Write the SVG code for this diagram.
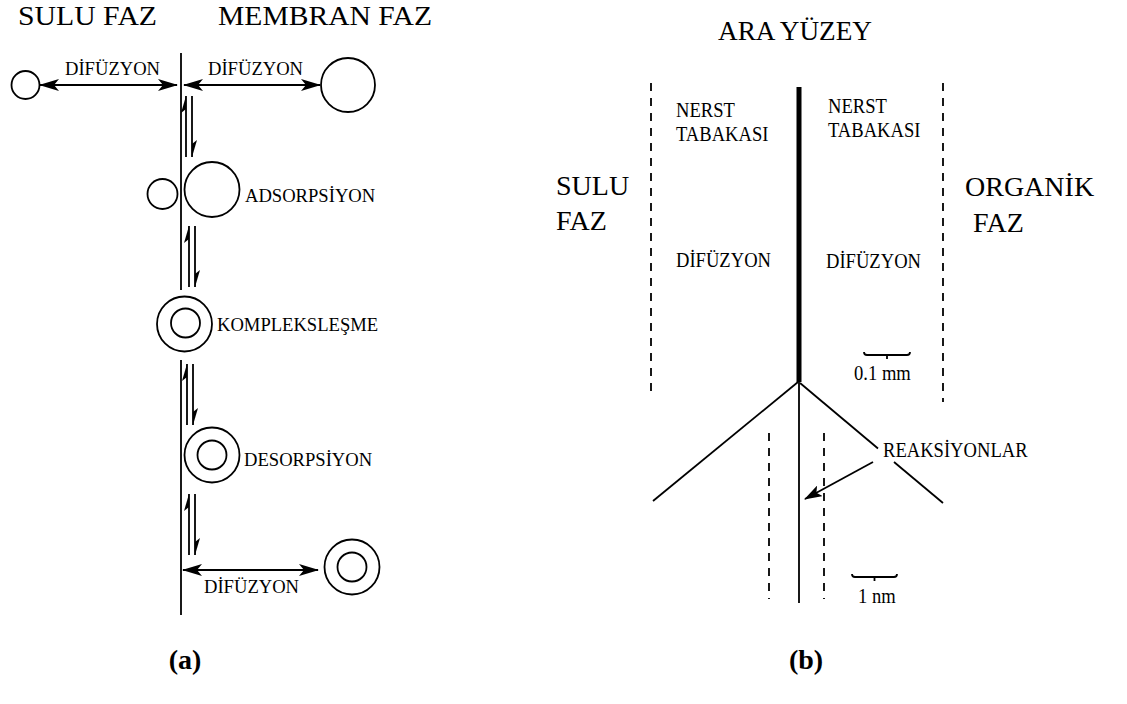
<svg xmlns="http://www.w3.org/2000/svg" width="1127" height="704" viewBox="0 0 1127 704" font-family="'Liberation Serif', 'DejaVu Serif', serif">
<defs>
<style>
text{font-family:'Liberation Serif','DejaVu Serif',serif;fill:#000}
.big{font-size:28px}
.sm{font-size:18.6px}
.lab{font-size:28px;font-weight:bold}
.ln{stroke:#000;stroke-width:1.8;fill:none}
.circ{stroke:#000;stroke-width:1.8;fill:#fff}
.dash{stroke:#000;stroke-width:1.8;fill:none;stroke-dasharray:8 7}
.hd{fill:#000;stroke:none}
</style>
<marker id="ah" viewBox="0 0 20 12" refX="19" refY="6" markerWidth="20" markerHeight="12" markerUnits="userSpaceOnUse" orient="auto-start-reverse">
<path d="M0,0 L20,6 L0,12 L5,6 z" fill="#000"/>
</marker>
<marker id="ah2" viewBox="0 0 18 12" refX="17" refY="6" markerWidth="18" markerHeight="12" markerUnits="userSpaceOnUse" orient="auto">
<path d="M0,0 L18,6 L0,12 L4,6 z" fill="#000"/>
</marker>
<g id="harp">
<line class="ln" x1="0" y1="0" x2="0" y2="61"/>
<polygon class="hd" points="0,0 -5,17 0,13"/>
<line class="ln" x1="6" y1="0" x2="6" y2="61"/>
<polygon class="hd" points="6,61 11,44 6,48"/>
</g>
</defs>
<rect width="1127" height="704" fill="#fff"/>

<g id="panel-a">
<g id="titles-a">
<text class="big" x="18" y="25" textLength="139" lengthAdjust="spacingAndGlyphs">SULU FAZ</text>
<text class="big" x="218" y="25" textLength="214" lengthAdjust="spacingAndGlyphs">MEMBRAN FAZ</text>
</g>
<g id="membrane">
<line class="ln" x1="181" y1="53" x2="181" y2="290"/>
<line class="ln" x1="181" y1="360" x2="181" y2="615"/>
</g>
<g id="connectors-a">
<line class="ln" x1="40" y1="85" x2="177" y2="85" marker-start="url(#ah)" marker-end="url(#ah)"/>
<line class="ln" x1="184" y1="85" x2="320" y2="85" marker-start="url(#ah)" marker-end="url(#ah)"/>
<line class="ln" x1="183" y1="570" x2="318" y2="570" marker-start="url(#ah)" marker-end="url(#ah)"/>
<use href="#harp" x="186" y="96"/>
<use href="#harp" x="189" y="226"/>
<use href="#harp" x="187" y="364"/>
<use href="#harp" x="189" y="494"/>
</g>
<g id="diff-top">
<circle class="circ" cx="25.5" cy="85" r="14"/>
<circle class="circ" cx="348" cy="85" r="27"/>
<text class="sm" x="65" y="75">DİFÜZYON</text>
<text class="sm" x="208" y="75">DİFÜZYON</text>
</g>
<g id="adsorpsiyon">
<circle class="circ" cx="162.5" cy="194" r="15"/>
<circle class="circ" cx="212" cy="189.5" r="27.5"/>
<text class="sm" x="245" y="202">ADSORPSİYON</text>
</g>
<g id="komplekslesme">
<circle class="circ" cx="184.5" cy="324" r="27.5"/>
<circle class="circ" cx="185.5" cy="323" r="14.5"/>
<text class="sm" x="217" y="331">KOMPLEKSLEŞME</text>
</g>
<g id="desorpsiyon">
<circle class="circ" cx="212" cy="455" r="27.5"/>
<circle class="circ" cx="212" cy="455" r="14.5"/>
<text class="sm" x="244" y="466">DESORPSİYON</text>
</g>
<g id="diff-bottom">
<circle class="circ" cx="352" cy="567" r="27.5"/>
<circle class="circ" cx="352" cy="567" r="14.5"/>
<text class="sm" x="204" y="593">DİFÜZYON</text>
</g>
<text class="lab" x="185" y="669" text-anchor="middle">(a)</text>
</g>

<g id="panel-b">
<g id="titles-b">
<text class="big" x="718" y="40" textLength="154" lengthAdjust="spacingAndGlyphs">ARA YÜZEY</text>
<text class="big" x="556" y="195">SULU</text>
<text class="big" x="556" y="230">FAZ</text>
<text class="big" x="965" y="196">ORGANİK</text>
<text class="big" x="973" y="232">FAZ</text>
</g>
<g id="interface">
<line stroke="#000" stroke-width="5" x1="799" y1="87" x2="799" y2="382"/>
<line class="ln" x1="799" y1="380" x2="799" y2="603"/>
<line class="dash" x1="651" y1="83" x2="651" y2="392"/>
<line class="dash" x1="943" y1="83" x2="943" y2="402"/>
<line class="ln" x1="798" y1="382" x2="653" y2="501"/>
<line class="ln" x1="800" y1="383" x2="878" y2="448.5"/>
<line class="ln" x1="894" y1="462" x2="943" y2="503"/>
<line class="dash" x1="769" y1="433" x2="769" y2="599"/>
<line class="dash" x1="824" y1="433" x2="824" y2="599"/>
</g>
<g id="nerst-left">
<text class="sm" x="676" y="117" transform="matrix(1,0,0,1.12,0,-14.04)">NERST</text>
<text class="sm" x="676" y="141" transform="matrix(1,0,0,1.12,0,-16.92)">TABAKASI</text>
<text class="sm" x="676" y="267" transform="matrix(1,0,0,1.12,0,-32.04)">DİFÜZYON</text>
</g>
<g id="nerst-right">
<text class="sm" x="828" y="113" transform="matrix(1,0,0,1.12,0,-13.56)">NERST</text>
<text class="sm" x="828" y="137" transform="matrix(1,0,0,1.12,0,-16.44)">TABAKASI</text>
<text class="sm" x="826" y="268" transform="matrix(1,0,0,1.12,0,-32.16)">DİFÜZYON</text>
</g>
<g id="scale-mm">
<path class="ln" d="M864,352 Q864,355 867,355 L907,355 Q910,355 910,352 M887,355 L887,359"/>
<text class="sm" x="854" y="380" transform="matrix(1,0,0,1.12,0,-45.6)">0.1 mm</text>
</g>
<g id="scale-nm">
<path class="ln" d="M852,574 Q852,577 855,577 L894,577 Q897,577 897,574 M874.5,577 L874.5,581"/>
<text class="sm" x="858" y="603" transform="matrix(1,0,0,1.12,0,-72.36)">1 nm</text>
</g>
<g id="reaksiyonlar">
<text class="sm" x="883" y="457" transform="matrix(1,0,0,1.12,0,-54.84)">REAKSİYONLAR</text>
<line class="ln" x1="873" y1="462" x2="805" y2="499" marker-end="url(#ah2)"/>
</g>
<text class="lab" x="806" y="669" text-anchor="middle">(b)</text>
</g>
</svg>
